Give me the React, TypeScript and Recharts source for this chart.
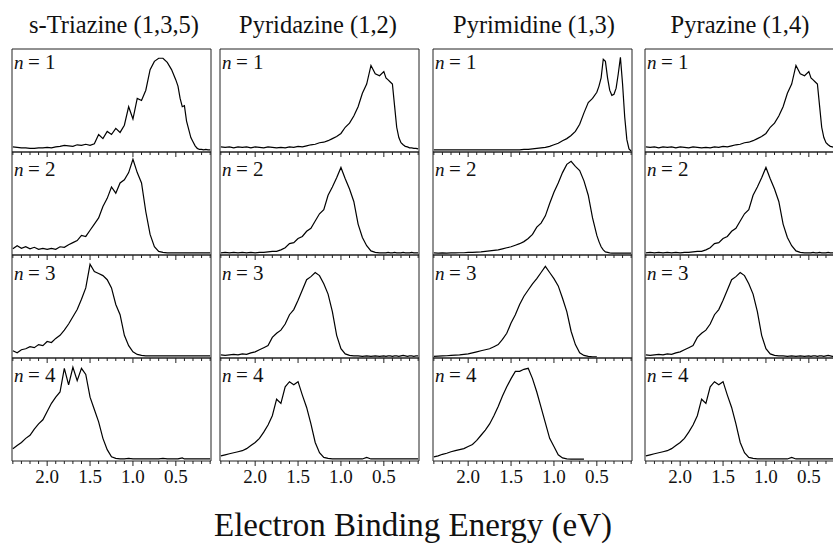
import React from "react";
import { LineChart, Line, XAxis, YAxis, ReferenceArea } from "recharts";

// binding energy grid (eV), finer below 0.5 eV where the pyrimidine n = 1 doublet sits
const energies = [
  2.4, 2.35, 2.3, 2.25, 2.2, 2.15, 2.1, 2.05, 2.0, 1.95,
  1.9, 1.85, 1.8, 1.75, 1.7, 1.65, 1.6, 1.55, 1.5, 1.45,
  1.4, 1.35, 1.3, 1.25, 1.2, 1.15, 1.1, 1.05, 1.0, 0.95,
  0.9, 0.85, 0.8, 0.75, 0.7, 0.65, 0.6, 0.55, 0.5,
  0.475, 0.45, 0.425, 0.4, 0.375, 0.35, 0.325, 0.3, 0.275, 0.25, 0.225, 0.2, 0.175, 0.15, 0.125, 0.1,
];

const tickValues = [
  0.1, 0.2, 0.3, 0.4, 0.5, 0.6, 0.7, 0.8, 0.9, 1.0, 1.1, 1.2,
  1.3, 1.4, 1.5, 1.6, 1.7, 1.8, 1.9, 2.0, 2.1, 2.2, 2.3, 2.4,
];

const molecules = ["s-Triazine (1,3,5)", "Pyridazine (1,2)", "Pyrimidine (1,3)", "Pyrazine (1,4)"];
const clusterSizes = [1, 2, 3, 4];

// intensities in % of panel height
const triazineN1 = [
  5, 4.5, 4, 4, 3.5, 3.5, 4, 4, 4.5, 4,
  5, 5.5, 6.5, 6, 5.5, 7, 6.5, 7.5, 6.5, 8,
  17, 13, 20, 17, 23, 19, 26, 44, 32, 52,
  50, 60, 80, 88, 91, 91, 87, 80, 70,
  64, 52, 44, 45, 30, 22, 14, 10, 6, 3.5, 2.5, 2.5, 2, 2.5, 2, 2,
];
const triazineN2 = [
  6, 9, 6.5, 8, 6, 7.5, 5.5, 6.5, 5.5, 6.5,
  5.5, 8, 7.5, 10, 12, 14, 19, 18, 24, 30,
  36, 47, 55, 66, 60, 70, 73, 80, 93, 80,
  70, 42, 20, 8, 3.5, 2.5, 2, 2, 2,
  2, 2, 2, 2, 2, 2, 2, 2, 2, 2, 2, 2, 2, 2, 2, 2,
];
const triazineN3 = [
  7, 5, 8, 9, 11, 10, 13, 12, 16, 15,
  19, 22, 27, 33, 40, 47, 57, 68, 91, 84,
  82, 80, 76, 68, 52, 42, 22, 12, 6, 3.5,
  2.5, 2, 2, 2, 2, 2, 2, 2, 2,
  2, 2, 2, 2, 2, 2, 2, 2, 2, 2, 2, 2, 2, 2, 2, 2,
];
const triazineN4 = [
  12, 15, 18, 22, 25, 31, 36, 40, 48, 56,
  62, 67, 90, 74, 91, 78, 90, 84, 62, 50,
  38, 22, 11, 4, 2.5, 2, 2, 2.5, 2, 2,
  2, 2, 2, 2, 2, 2.5, 2, 2, 2,
  2, 2.5, 3, 2, 2, 2, 2, 2, 2, 2, 2, 2, 2, 2, 2, 2,
];

const pyridazineN1 = [
  5, 4.5, 5, 4, 5, 4.5, 5, 4, 5, 4.5,
  4, 5, 4.5, 4, 4.5, 4, 5, 4.5, 5.5, 5,
  6, 7, 7.5, 9, 9.5, 11, 13, 15, 18, 24,
  28, 35, 44, 57, 66, 84, 76, 74, 78,
  72, 70, 68, 66, 45, 24, 14, 9, 7, 5.5, 5, 4, 4, 3.5, 3.5, 3,
];
const pyridazineN2 = [
  2, 2.5, 2, 2.5, 2, 2.5, 2, 2.5, 2, 2.5,
  2.5, 3, 3.5, 3.5, 5, 7, 11, 12, 16, 18,
  23, 26, 33, 40, 44, 58, 66, 75, 85, 74,
  64, 52, 30, 17, 9, 4, 2.5, 2, 2,
  2, 2.5, 2, 2, 2.5, 2, 2, 2, 2.5, 2, 2, 2, 2.5, 2, 2, 2,
];
const pyridazineN3 = [
  3, 2.5, 3, 3.5, 3, 4, 3.5, 5, 6, 8,
  10, 12, 20, 24, 27, 33, 42, 47, 56, 66,
  76, 79, 83, 80, 72, 62, 45, 22, 9, 4,
  2.5, 2, 2, 1.5, 2, 1.5, 2, 1.5, 2,
  1.5, 2, 2, 1.5, 2, 2, 1.5, 2, 2.5, 2, 1.5, 2, 2, 1.5, 2, 2,
];
const pyridazineN4 = [
  5, 6, 7, 8, 9, 10, 12, 15, 18, 22,
  28, 35, 44, 60, 56, 72, 77, 74, 77, 64,
  52, 36, 18, 8, 3.5, 2.5, 2, 2, 2, 2,
  2, 2, 2, 2, 3.5, 2, 2, 2, 2,
  2, 2, 2, 2, 2, 2, 2, 2, 2, 2, 2, 2, 2, 2, 2, 2,
];

const pyrimidineN1 = [
  2, 2, 2, 2, 2, 2, 2, 2, 2, 2,
  2, 2, 2, 2, 2, 2, 2, 2, 2, 2,
  2, 2.5, 2.5, 3, 3.5, 4, 4.5, 5.5, 7, 8.5,
  11, 13, 16, 20, 27, 38, 48, 52, 58,
  64, 72, 90, 88, 72, 60, 55, 56, 62, 76, 92, 66, 34, 12, 3, 1,
];
const pyrimidineN2 = [
  2, 1.8, 2, 1.8, 2, 2, 2.2, 2.2, 2.5, 2.5,
  2.8, 3, 3.5, 4, 4.5, 5, 6, 7, 8, 9.5,
  11, 13, 16, 20, 27, 31, 38, 50, 61, 70,
  80, 88, 91, 86, 82, 72, 58, 36, 19,
  13, 8, 5, 3, 2.5, 2, 1.8, 1.8, 1.8, 1.8, 1.8, 1.8, 1.8, 1.8, 1.8, 1.8,
];
const pyrimidineN3 = [
  1.5, 1.8, 2, 2.2, 2.5, 2.8, 3, 3.5, 4, 5,
  6, 7, 8, 9, 11, 13, 18, 24, 34, 42,
  52, 60, 66, 72, 77, 83, 89, 83, 77, 70,
  58, 45, 26, 13, 5, 2.5, 1.5, 1.2, 1.2,
  null, null, null, null, null, null, null, null, null, null, null, null, null, null, null, null,
];
const pyrimidineN4 = [
  4, 5, 6.5, 7.5, 9, 10, 11, 12, 14, 16,
  20, 25, 30, 36, 44, 53, 63, 72, 80, 87,
  87, 89, 90, 80, 67, 52, 37, 22, 14, 6,
  3, 2, 1.8, 1.8, 1.8, 1.8, null, null, null,
  null, null, null, null, null, null, null, null, null, null, null, null, null, null, null, null,
];

// the Pyrazine column of the figure repeats the Pyridazine traces
const pyrazineN1 = pyridazineN1;
const pyrazineN2 = pyridazineN2;
const pyrazineN3 = pyridazineN3;
const pyrazineN4 = pyridazineN4;

const spectra = [
  [triazineN1, triazineN2, triazineN3, triazineN4],
  [pyridazineN1, pyridazineN2, pyridazineN3, pyridazineN4],
  [pyrimidineN1, pyrimidineN2, pyrimidineN3, pyrimidineN4],
  [pyrazineN1, pyrazineN2, pyrazineN3, pyrazineN4],
];

const COL_LEFT = [12, 220, 433, 645];
const ROW_TOP = [49, 152, 255, 358];
const PANEL_W = 199;
const PANEL_H = 103;
const TITLE_X = [114, 318, 534, 740];
const LABEL_DY = [20, 23.5, 24.5, 23.5];
const SERIF = "'Liberation Serif', 'Times New Roman', Times, serif";
const serif = { fontFamily: SERIF };

const EnergyTick = (props: any) => {
  const { x, y, payload, showLabel } = props;
  const v = payload.value as number;
  const major = Math.abs(v * 2 - Math.round(v * 2)) < 1e-6;
  return (
    <g>
      <line x1={x} y1={y} x2={x} y2={y + (major ? 5 : 3)} stroke="#222" strokeWidth={1} />
      {showLabel && major && (
        <text x={x} y={y + 22} textAnchor="middle" fontSize={19} style={serif} fill="#111">
          {v.toFixed(1)}
        </text>
      )}
    </g>
  );
};

const Panel = ({ values, col, row }: { values: (number | null)[]; col: number; row: number }) => {
  const last = row === 3;
  const axisH = last ? 32 : 6;
  const data = energies.map((e, i) => ({ e, v: values[i] }));
  return (
    <div style={{ position: "absolute", left: COL_LEFT[col] - 1, top: ROW_TOP[row] - 1 }}>
      <LineChart
        width={PANEL_W + 2}
        height={PANEL_H + 1 + axisH}
        data={data}
        margin={{ top: 1, right: 1, bottom: 0, left: 1 }}
      >
        <XAxis
          dataKey="e"
          type="number"
          domain={[0.09, 2.41]}
          reversed
          allowDataOverflow
          ticks={tickValues}
          interval={0}
          tickSize={0}
          tickMargin={0}
          axisLine={false}
          tickLine={false}
          height={axisH}
          tick={(p: any) => <EnergyTick {...p} showLabel={last} />}
        />
        <YAxis hide domain={[0, 100]} allowDataOverflow />
        <ReferenceArea
          x1={0.09}
          x2={2.41}
          y1={0}
          y2={100}
          fill="none"
          stroke="#222"
          strokeWidth={1}
          ifOverflow="visible"
        />
        <Line
          dataKey="v"
          type="linear"
          stroke="#000"
          strokeWidth={1.2}
          dot={false}
          isAnimationActive={false}
        />
      </LineChart>
    </div>
  );
};

export default function App() {
  return (
    <div
      style={{
        position: "absolute",
        left: 0,
        top: 0,
        width: 833,
        height: 548,
        overflow: "hidden",
        background: "#fff",
      }}
    >
      {spectra.map((cols, c) =>
        cols.map((vals, r) => <Panel key={`${c}-${r}`} values={vals} col={c} row={r} />)
      )}
      <svg
        width={833}
        height={548}
        style={{ position: "absolute", left: 0, top: 0, pointerEvents: "none" }}
        fill="#111"
      >
        {molecules.map((m, c) => (
          <text key={m} x={TITLE_X[c]} y={33} textAnchor="middle" fontSize={24.5} style={serif}>
            {m}
          </text>
        ))}
        {COL_LEFT.map((left, c) =>
          clusterSizes.map((n, r) => (
            <g key={`n${c}${r}`} style={serif}>
              <text x={left + 2} y={ROW_TOP[r] + LABEL_DY[r]} fontSize={19} fontStyle="italic">n</text>
              <text x={left + 16} y={ROW_TOP[r] + LABEL_DY[r]} fontSize={21}>=</text>
              <text x={left + 33} y={ROW_TOP[r] + LABEL_DY[r]} fontSize={21}>{n}</text>
            </g>
          ))
        )}
        <text x={413} y={536} textAnchor="middle" fontSize={33} style={serif}>
          Electron Binding Energy (eV)
        </text>
      </svg>
    </div>
  );
}
